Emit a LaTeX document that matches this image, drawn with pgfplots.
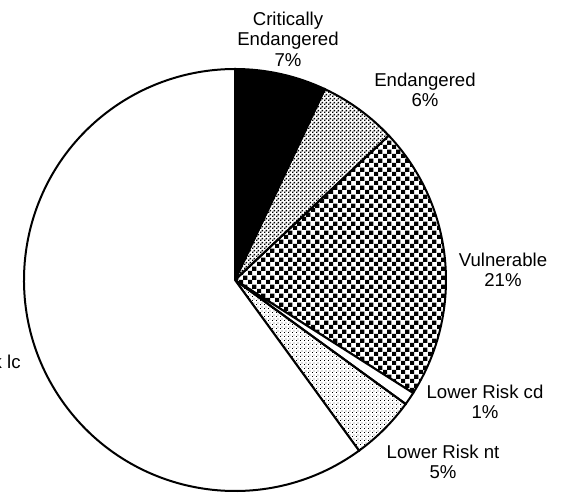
\documentclass[border=0pt]{standalone}
\usepackage{fontspec}
\setmainfont{Liberation Sans}
\usepackage{pgfplots}
\pgfplotsset{compat=1.18}
\usetikzlibrary{patterns}

% coarse checkerboard (Vulnerable)
\pgfdeclarepatternformonly{checker}{\pgfpointorigin}{\pgfpoint{4.6pt}{4.6pt}}{\pgfpoint{4.6pt}{4.6pt}}{
  \pgfpathrectangle{\pgfpointorigin}{\pgfpoint{2.3pt}{2.3pt}}
  \pgfpathrectangle{\pgfpoint{2.3pt}{2.3pt}}{\pgfpoint{2.3pt}{2.3pt}}
  \pgfusepath{fill}
}
% fine dot grid (Endangered)
\pgfdeclarepatternformonly{finegrid}{\pgfpointorigin}{\pgfpoint{2pt}{2pt}}{\pgfpoint{2pt}{2pt}}{
  \pgfpathrectangle{\pgfpointorigin}{\pgfpoint{0.9pt}{0.9pt}}
  \pgfpathrectangle{\pgfpoint{1pt}{1pt}}{\pgfpoint{0.9pt}{0.9pt}}
  \pgfusepath{fill}
}
% sparse fine dots (Lower Risk nt)
\pgfdeclarepatternformonly{sparsedots}{\pgfpointorigin}{\pgfpoint{2pt}{2pt}}{\pgfpoint{2pt}{2pt}}{
  \pgfpathrectangle{\pgfpointorigin}{\pgfpoint{0.5pt}{0.5pt}}
  \pgfpathrectangle{\pgfpoint{1pt}{1pt}}{\pgfpoint{0.5pt}{0.5pt}}
  \pgfusepath{fill}
}

% slice from cumulative percent #1 to #2, clockwise from the top
\newcommand{\slice}[3]{%
  \draw[line width=1pt, #3] (axis cs:235,213) -- ++({90-3.6*#1}:105.5pt)
    arc[start angle={90-3.6*#1}, end angle={90-3.6*#2}, radius=105.5pt] -- cycle;
}

\begin{document}
\begin{tikzpicture}[lbl/.style={font=\fontsize{9.3}{10.2}\selectfont, align=center, inner sep=0pt}]
\useasboundingbox (0,0) rectangle (284.5pt,246.5pt);
\clip (0,0) rectangle (284.5pt,246.5pt);
\begin{axis}[
  scale only axis,
  width=284.5pt, height=246.5pt,
  xmin=0, xmax=569, ymin=0, ymax=493,
  hide axis, clip=false
]
% percentages: CE 7, E 6, V 21, LR cd 1, LR nt 5, LR lc 60
\slice{0}{7}{fill=black}
\slice{7}{13}{fill=white, pattern=finegrid}
\slice{13}{34}{fill=white, pattern=checker}
\slice{34}{35}{fill=white}
\slice{35}{40}{fill=white, pattern=sparsedots}
\slice{40}{100}{fill=white}

\node[lbl] at (axis cs:288,454) {Critically\\Endangered\\7\%};
\node[lbl] at (axis cs:425,403) {Endangered\\6\%};
\node[lbl] at (axis cs:503,223) {Vulnerable\\21\%};
\node[lbl] at (axis cs:485,91) {Lower Risk cd\\1\%};
\node[lbl] at (axis cs:443,31) {Lower Risk nt\\5\%};
\node[lbl, anchor=east] at (axis cs:21,121) {Lower Risk lc\\60\%};
\end{axis}
\end{tikzpicture}
\end{document}
